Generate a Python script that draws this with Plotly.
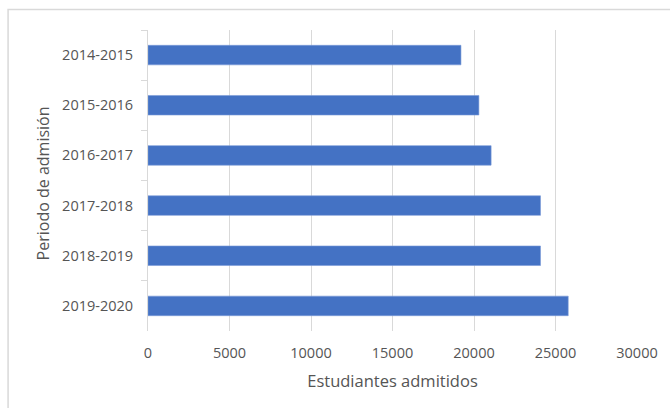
import plotly.graph_objects as go

# Admitted students per admission period
periodos = ["2014-2015", "2015-2016", "2016-2017", "2017-2018", "2018-2019", "2019-2020"]
admitidos = [19200, 20300, 21050, 24080, 24080, 25780]
x_ticks = [0, 5000, 10000, 15000, 20000, 25000, 30000]

TEXT = "#555555"
GRID = "#d9d9d9"
FONT = "Open Sans"

fig = go.Figure(
    go.Bar(
        x=admitidos,
        y=periodos,
        orientation="h",
        marker=dict(color="#4472C4", line=dict(color="#7b9bd6", width=0.6)),
        hoverinfo="x+y",
    )
)

# plot area spans pixels x 148..639, y 30..331 in a 670x408 page
L, R, T, B = 148, 31, 30, 77
pw = 670 - L - R
ph = 408 - T - B

fig.update_layout(
    width=670,
    height=408,
    margin=dict(l=L, r=R, t=T, b=B, pad=0),
    paper_bgcolor="white",
    plot_bgcolor="white",
    bargap=0.61,
    showlegend=False,
    font=dict(family=FONT, color=TEXT, size=14),
    xaxis=dict(
        range=[0, 30000],
        tickvals=x_ticks,
        ticktext=[str(v) for v in x_ticks],
        showgrid=True,
        gridcolor=GRID,
        gridwidth=1,
        zeroline=False,
        showline=False,
        ticks="",
        ticklabelstandoff=11,
        tickfont=dict(family=FONT, size=14.5, color=TEXT),
        title=dict(text="Estudiantes admitidos", font=dict(family=FONT, size=16.5, color=TEXT), standoff=14),
        fixedrange=True,
    ),
    yaxis=dict(
        autorange="reversed",
        type="category",
        showgrid=False,
        showline=True,
        linecolor=GRID,
        linewidth=1,
        ticks="outside",
        tickson="boundaries",
        ticklen=6,
        tickcolor=GRID,
        ticklabelstandoff=11,
        tickfont=dict(family=FONT, size=14.5, color=TEXT),
        fixedrange=True,
    ),
    annotations=[
        # vertical axis title, placed a little below the plot centre
        dict(
            text="Periodo de admisión",
            textangle=-90,
            xref="paper",
            yref="paper",
            x=(43 - L) / pw,
            y=(331 - 183) / ph,
            xanchor="center",
            yanchor="middle",
            showarrow=False,
            font=dict(family=FONT, size=16, color=TEXT),
        )
    ],
    shapes=[
        # chart frame (top and left edges visible)
        dict(
            type="rect",
            xref="paper",
            yref="paper",
            x0=(7.5 - L) / pw,
            x1=(700 - L) / pw,
            y0=(331 - 440) / ph,
            y1=(331 - 9.5) / ph,
            line=dict(color=GRID, width=1.5),
            fillcolor="rgba(0,0,0,0)",
            layer="below",
        )
    ],
)

fig.write_html("out.html")
